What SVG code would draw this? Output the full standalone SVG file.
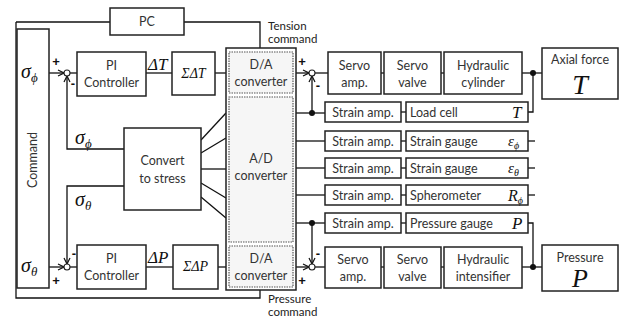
<svg xmlns="http://www.w3.org/2000/svg" width="625" height="320" viewBox="0 0 625 320">
<defs>
<style>
.box{fill:#fff;stroke:#222;stroke-width:1.5}
.inner{fill:#f6f6f6;stroke:#555;stroke-width:1.2;stroke-dasharray:1.5,1}
.ln{fill:none;stroke:#111;stroke-width:1.3}
.t{font-family:Lato,"Open Sans","Liberation Sans",sans-serif;font-size:12.5px;fill:#333;text-anchor:middle}
.ts{font-family:Lato,"Open Sans","Liberation Sans",sans-serif;font-size:12.5px;fill:#333}
.tc{font-family:Lato,"Open Sans","Liberation Sans",sans-serif;font-size:11.5px;fill:#222}
.m{font-family:"Liberation Serif","DejaVu Serif",serif;font-style:italic;fill:#111}
.pm{font-family:"Liberation Sans",sans-serif;font-weight:bold;font-size:13px;fill:#111;text-anchor:middle}
.dot{fill:#111}
.sj{fill:#fff;stroke:#222;stroke-width:1.1}
</style>
<marker id="arr" markerWidth="8" markerHeight="8" refX="7" refY="4" orient="auto" markerUnits="userSpaceOnUse">
<path d="M1,1 L7,4 L1,7" fill="none" stroke="#111" stroke-width="1.2"/>
</marker>
</defs>
<rect width="625" height="320" fill="#fff"/>

<g id="connectors">
<!-- outer PC loop -->
<polyline class="ln" points="16,22 16,298 260,298 260,290"/>
<polyline class="ln" points="16,22 110,22"/>
<polyline class="ln" points="184,22 260,22 260,48"/>
<!-- top left loop -->
<line class="ln" x1="49" y1="73" x2="64" y2="73" marker-end="url(#arr)"/>
<polyline class="ln" points="124,149 67,149 67,76" marker-end="url(#arr)"/>
<line class="ln" x1="70" y1="73" x2="77" y2="73"/>
<line class="ln" x1="146" y1="73" x2="172" y2="73"/>
<line class="ln" x1="215" y1="73" x2="226" y2="73"/>
<!-- bottom left loop -->
<line class="ln" x1="49" y1="267" x2="64" y2="267" marker-end="url(#arr)"/>
<polyline class="ln" points="124,186 67,186 67,264" marker-end="url(#arr)"/>
<line class="ln" x1="70" y1="267" x2="77" y2="267"/>
<line class="ln" x1="146" y1="267" x2="173" y2="267"/>
<line class="ln" x1="218" y1="267" x2="226" y2="267"/>
<!-- convert to A/D -->
<line class="ln" x1="201" y1="140" x2="226" y2="113"/>
<line class="ln" x1="201" y1="153" x2="226" y2="138"/>
<line class="ln" x1="201" y1="169" x2="226" y2="169"/>
<line class="ln" x1="201" y1="183" x2="226" y2="198"/>
<line class="ln" x1="201" y1="197" x2="226" y2="218"/>
<!-- top right loop -->
<line class="ln" x1="296" y1="73" x2="309" y2="73" marker-end="url(#arr)"/>
<line class="ln" x1="312" y1="113" x2="312" y2="76" marker-end="url(#arr)"/>
<line class="ln" x1="315" y1="73" x2="328" y2="73"/>
<line class="ln" x1="381" y1="73" x2="384" y2="73"/>
<line class="ln" x1="441" y1="73" x2="444" y2="73"/>
<line class="ln" x1="522" y1="73" x2="542" y2="73"/>
<polyline class="ln" points="533,73 533,112 528,112"/>
<!-- A/D rows -->
<line class="ln" x1="296" y1="113" x2="325" y2="113"/>
<line class="ln" x1="296" y1="141" x2="325" y2="141"/>
<line class="ln" x1="296" y1="168" x2="325" y2="168"/>
<line class="ln" x1="296" y1="195" x2="325" y2="195"/>
<line class="ln" x1="296" y1="223" x2="325" y2="223"/>
<line class="ln" x1="401" y1="112" x2="406" y2="112"/>
<line class="ln" x1="401" y1="141" x2="406" y2="141"/>
<line class="ln" x1="401" y1="168" x2="406" y2="168"/>
<line class="ln" x1="401" y1="195" x2="406" y2="195"/>
<line class="ln" x1="401" y1="223" x2="406" y2="223"/>
<line class="ln" x1="528" y1="141" x2="535" y2="141"/>
<line class="ln" x1="528" y1="168" x2="535" y2="168"/>
<line class="ln" x1="528" y1="195" x2="535" y2="195"/>
<polyline class="ln" points="528,223 533,223 533,267"/>
<!-- bottom right loop -->
<line class="ln" x1="296" y1="267" x2="309" y2="267" marker-end="url(#arr)"/>
<line class="ln" x1="312" y1="223" x2="312" y2="264" marker-end="url(#arr)"/>
<line class="ln" x1="315" y1="267" x2="325" y2="267"/>
<line class="ln" x1="381" y1="267" x2="384" y2="267"/>
<line class="ln" x1="441" y1="267" x2="444" y2="267"/>
<line class="ln" x1="522" y1="267" x2="542" y2="267"/>
<!-- dots -->
<circle class="dot" cx="312" cy="113" r="3"/>
<circle class="dot" cx="312" cy="223" r="3"/>
<circle class="dot" cx="533" cy="73" r="3"/>
<circle class="dot" cx="533" cy="267" r="3"/>
<!-- summing junctions -->
<circle class="sj" cx="67" cy="73" r="3"/>
<circle class="sj" cx="67" cy="267" r="3"/>
<circle class="sj" cx="312" cy="73" r="3"/>
<circle class="sj" cx="312" cy="267" r="3"/>
<!-- signs -->
<text class="pm" x="56" y="66">+</text>
<text class="pm" x="73" y="88">-</text>
<text class="pm" x="74" y="258">-</text>
<text class="pm" x="56" y="285">+</text>
<text class="pm" x="302" y="66">+</text>
<text class="pm" x="318" y="90">-</text>
<text class="pm" x="318" y="258">-</text>
<text class="pm" x="302" y="285">+</text>
<!-- labels -->
<text class="m" x="75" y="144" font-size="20">σ<tspan font-size="13" dy="4">ϕ</tspan></text>
<text class="m" x="75" y="206" font-size="20">σ<tspan font-size="13" dy="4">θ</tspan></text>
<text class="m" x="148" y="70" font-size="17">ΔT</text>
<text class="m" x="148" y="263" font-size="17">ΔP</text>
<text class="tc" x="268" y="30">Tension</text>
<text class="tc" x="268" y="43">command</text>
<text class="tc" x="268" y="303">Pressure</text>
<text class="tc" x="268" y="316">command</text>
</g>

<g id="pc"><rect class="box" x="110" y="8" width="74" height="27"/><text class="t" x="147" y="26">PC</text></g>

<g id="command">
<rect class="box" x="17" y="29" width="32" height="259" fill="#f8f8f8"/>
<text class="t" transform="translate(37,160) rotate(-90)" font-size="13">Command</text>
<text class="m" x="21" y="78" font-size="20">σ<tspan font-size="13" dy="4">ϕ</tspan></text>
<text class="m" x="21" y="272" font-size="20">σ<tspan font-size="13" dy="4">θ</tspan></text>
</g>

<g id="pi-top"><rect class="box" x="77" y="52" width="69" height="44"/><text class="t" x="111.5" y="70">PI</text><text class="t" x="111.5" y="87">Controller</text></g>
<g id="sum-dt"><rect class="box" x="172" y="52" width="43" height="43"/><text class="m" x="193.5" y="78" font-size="14" text-anchor="middle">ΣΔT</text></g>
<g id="pi-bot"><rect class="box" x="77" y="245" width="69" height="44"/><text class="t" x="111.5" y="263">PI</text><text class="t" x="111.5" y="280">Controller</text></g>
<g id="sum-dp"><rect class="box" x="173" y="245" width="45" height="44"/><text class="m" x="195.5" y="271" font-size="14" text-anchor="middle">ΣΔP</text></g>
<g id="convert"><rect class="box" x="124" y="128" width="77" height="82"/><text class="t" x="162.5" y="165">Convert</text><text class="t" x="162.5" y="183">to stress</text></g>

<g id="converters">
<rect class="box" x="226" y="48" width="70" height="242" fill="#f6f6f6"/>
<g id="da-top"><rect class="inner" x="229" y="52" width="64" height="41"/><text class="t" x="261" y="69">D/A</text><text class="t" x="261" y="86">converter</text></g>
<g id="ad"><rect class="inner" x="229" y="97" width="64" height="145"/><text class="t" x="261" y="163">A/D</text><text class="t" x="261" y="180">converter</text></g>
<g id="da-bot"><rect class="inner" x="229" y="246" width="64" height="41"/><text class="t" x="261" y="263">D/A</text><text class="t" x="261" y="280">converter</text></g>
</g>

<g id="servo-amp-top"><rect class="box" x="328" y="52" width="53" height="42"/><text class="t" x="354.5" y="70">Servo</text><text class="t" x="354.5" y="87">amp.</text></g>
<g id="servo-valve-top"><rect class="box" x="384" y="52" width="57" height="42"/><text class="t" x="412.5" y="70">Servo</text><text class="t" x="412.5" y="87">valve</text></g>
<g id="hyd-cyl"><rect class="box" x="444" y="52" width="78" height="42"/><text class="t" x="483" y="70">Hydraulic</text><text class="t" x="483" y="87">cylinder</text></g>
<g id="axial"><rect class="box" x="542" y="48" width="76" height="51"/><text class="t" x="580" y="64" font-size="14">Axial force</text><text class="m" x="580" y="94" font-size="28" text-anchor="middle">T</text></g>

<g id="sa1"><rect class="box" x="325" y="102" width="76" height="20"/><text class="t" x="363" y="117">Strain amp.</text></g>
<g id="sa2"><rect class="box" x="325" y="131" width="76" height="20"/><text class="t" x="363" y="146">Strain amp.</text></g>
<g id="sa3"><rect class="box" x="325" y="158" width="76" height="20"/><text class="t" x="363" y="173">Strain amp.</text></g>
<g id="sa4"><rect class="box" x="325" y="185" width="76" height="20"/><text class="t" x="363" y="200">Strain amp.</text></g>
<g id="sa5"><rect class="box" x="325" y="213" width="76" height="20"/><text class="t" x="363" y="228">Strain amp.</text></g>

<g id="loadcell"><rect class="box" x="406" y="102" width="122" height="20"/><text class="ts" x="410" y="117">Load cell</text><text class="m" x="512" y="118" font-size="17">T</text></g>
<g id="sg-phi"><rect class="box" x="406" y="131" width="122" height="20"/><text class="ts" x="410" y="146">Strain gauge</text><text class="m" x="508" y="146" font-size="15">ε<tspan font-size="10" dy="3">ϕ</tspan></text></g>
<g id="sg-theta"><rect class="box" x="406" y="158" width="122" height="20"/><text class="ts" x="410" y="173">Strain gauge</text><text class="m" x="508" y="173" font-size="15">ε<tspan font-size="10" dy="3">θ</tspan></text></g>
<g id="spherometer"><rect class="box" x="406" y="185" width="122" height="20"/><text class="ts" x="410" y="200">Spherometer</text><text class="m" x="508" y="201" font-size="16">R<tspan font-size="10" dy="3">ϕ</tspan></text></g>
<g id="pgauge"><rect class="box" x="406" y="213" width="122" height="20"/><text class="ts" x="410" y="228">Pressure gauge</text><text class="m" x="512" y="229" font-size="17">P</text></g>

<g id="servo-amp-bot"><rect class="box" x="325" y="247" width="56" height="41"/><text class="t" x="353" y="264">Servo</text><text class="t" x="353" y="281">amp.</text></g>
<g id="servo-valve-bot"><rect class="box" x="384" y="247" width="57" height="41"/><text class="t" x="412.5" y="264">Servo</text><text class="t" x="412.5" y="281">valve</text></g>
<g id="hyd-int"><rect class="box" x="444" y="247" width="78" height="41"/><text class="t" x="483" y="264">Hydraulic</text><text class="t" x="483" y="281">intensifier</text></g>
<g id="pressure"><rect class="box" x="542" y="245" width="76" height="46"/><text class="t" x="580" y="262" font-size="14">Pressure</text><text class="m" x="580" y="287" font-size="26" text-anchor="middle">P</text></g>
</svg>
